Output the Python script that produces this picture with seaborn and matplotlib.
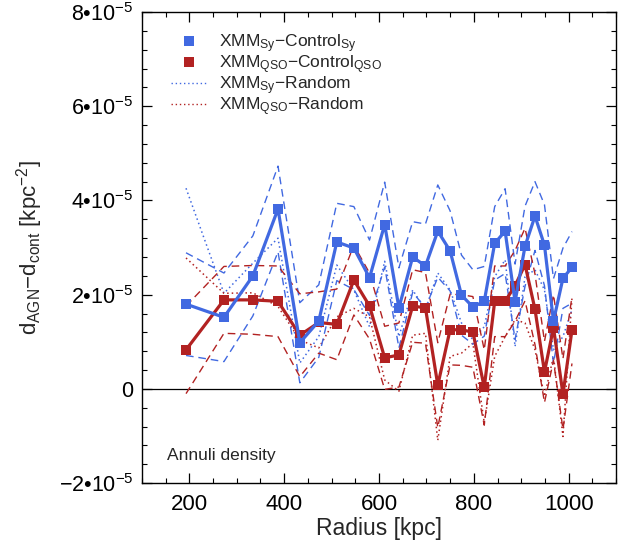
import numpy as np
import pandas as pd
import matplotlib
matplotlib.use("Agg")
import matplotlib.pyplot as plt
from matplotlib.lines import Line2D
from matplotlib.ticker import MultipleLocator, FixedLocator
import seaborn as sns

# ---------------- data (values in units of 1e-5 kpc^-2) ----------------
radius = [193, 273, 334, 387, 433, 473, 511, 547, 580, 612, 642, 671, 698, 724,
          750, 774, 798, 822, 844, 866, 887, 908, 929, 949, 968, 988, 1007]

sy_control = [1.80, 1.52, 2.40, 3.82, 0.98, 1.44, 3.12, 2.99, 2.36, 3.49, 1.72, 2.80, 2.61, 3.35,
              2.93, 1.99, 1.74, 1.86, 3.09, 3.35, 1.85, 3.03, 3.67, 3.05, 1.44, 2.35, 2.58]
sy_err = [1.09, 0.94, 0.85, 0.91, 0.85, 0.77, 0.82, 0.88, 0.80, 0.90, 0.85, 0.75, 0.89, 0.98,
          0.85, 0.85, 0.79, 0.74, 0.78, 0.90, 0.80, 0.85, 0.73, 0.86, 0.90, 0.64, 0.76]

qso_control = [0.83, 1.89, 1.89, 1.86, 1.14, 1.41, 1.37, 2.31, 1.76, 0.66, 0.72, 1.76, 1.72, 0.08,
               1.26, 1.25, 1.21, 0.03, 1.86, 1.86, 2.19, 2.64, 1.69, 0.36, 1.30, -0.11, 1.25]
qso_err = [0.93, 0.71, 0.73, 0.75, 0.88, 0.65, 0.75, 0.74, 0.70, 0.67, 0.68, 0.77, 0.75, 0.90,
           0.75, 0.75, 0.75, 0.80, 0.75, 0.75, 0.75, 0.77, 0.75, 0.65, 0.70, 0.75, 0.71]

sy_random = [4.26, 2.03, 2.67, 3.20, 0.55, 1.11, 2.63, 2.10, 1.32, 2.71, 1.11, 2.10, 1.68, 2.46,
             2.10, 1.40, 1.04, 1.32, 2.38, 2.74, 0.90, 2.38, 2.53, 2.10, 0.83, 1.11, 1.68]
qso_random = [2.78, 2.03, 2.04, 1.75, 1.04, 0.87, 1.53, 1.71, 1.53, 0.19, -0.05, 1.14, 1.18, -1.09,
              0.69, 0.76, 0.97, -0.72, 0.69, 1.11, 1.47, 1.40, 0.83, -0.16, 0.69, -1.01, 1.93]

yticks = [-2, 0, 2, 4, 6, 8]
ytick_labels = [r"$-$2•10$^{-5}$", "0", r"2•10$^{-5}$", r"4•10$^{-5}$", r"6•10$^{-5}$", r"8•10$^{-5}$"]
xticks = [200, 400, 600, 800, 1000]

BLUE = "#4169e1"
RED = "#b22222"

# ---------------- style ----------------
sns.set_style("ticks")
plt.rcParams["font.family"] = ["Liberation Sans", "DejaVu Sans"]
plt.rcParams["mathtext.fontset"] = "custom"
plt.rcParams["mathtext.rm"] = "Liberation Sans"
plt.rcParams["mathtext.it"] = "Liberation Sans"
plt.rcParams["mathtext.default"] = "regular"

df = pd.DataFrame({
    "r": radius,
    "sy": sy_control, "sy_hi": np.array(sy_control) + np.array(sy_err),
    "sy_lo": np.array(sy_control) - np.array(sy_err),
    "qso": qso_control, "qso_hi": np.array(qso_control) + np.array(qso_err),
    "qso_lo": np.array(qso_control) - np.array(qso_err),
    "sy_rand": sy_random, "qso_rand": qso_random,
})

fig = plt.figure(figsize=(6.28, 5.49), dpi=100)
ax = fig.add_axes([0.226, 0.120, 0.755, 0.858])

ax.axhline(0, color="black", lw=0.9, zorder=1)

kw = dict(ax=ax, sort=False, estimator=None, legend=False)
sns.lineplot(data=df, x="r", y="sy_rand", color=BLUE, lw=1.1, linestyle=(0, (1, 2)), **kw)
sns.lineplot(data=df, x="r", y="qso_rand", color=RED, lw=1.1, linestyle=(0, (1, 2)), **kw)
for col, c in [("sy_hi", BLUE), ("sy_lo", BLUE), ("qso_hi", RED), ("qso_lo", RED)]:
    sns.lineplot(data=df, x="r", y=col, color=c, lw=1.0, linestyle=(0, (5.5, 3.5)), **kw)
sns.lineplot(data=df, x="r", y="qso", color=RED, lw=2.3, marker="s", markersize=6.5,
             markeredgewidth=0, **kw)
sns.lineplot(data=df, x="r", y="sy", color=BLUE, lw=2.3, marker="s", markersize=6.5,
             markeredgewidth=0, **kw)

ax.set_xlim(100, 1100)
ax.set_ylim(-2, 8)
ax.xaxis.set_major_locator(FixedLocator(xticks))
ax.xaxis.set_minor_locator(MultipleLocator(50))
ax.yaxis.set_major_locator(FixedLocator(yticks))
ax.yaxis.set_minor_locator(MultipleLocator(0.4))
ax.set_yticklabels(ytick_labels)
ax.tick_params(which="both", direction="in", top=True, right=True, colors="black")
ax.tick_params(axis="x", labelsize=16, pad=8)
ax.tick_params(axis="y", labelsize=15.5, pad=6)
ax.tick_params(which="major", length=7, width=0.9)
ax.tick_params(which="minor", length=3.5, width=0.8)
for s in ax.spines.values():
    s.set_linewidth(1.0)
    s.set_color("black")

ax.set_xlabel("Radius [kpc]", fontsize=16.5, labelpad=1)
ax.set_ylabel(r"d$_{AGN}$$-$d$_{cont}$ [kpc$^{-2}$]", fontsize=16, labelpad=10)

ax.text(0.053, 0.059, "Annuli density", transform=ax.transAxes, fontsize=12.5, ha="left", va="center")

handles = [
    Line2D([], [], color=BLUE, marker="s", linestyle="none", markersize=7, markeredgewidth=0),
    Line2D([], [], color=RED, marker="s", linestyle="none", markersize=7, markeredgewidth=0),
    Line2D([], [], color=BLUE, lw=1.0, linestyle=(0, (1, 2))),
    Line2D([], [], color=RED, lw=1.0, linestyle=(0, (1, 2))),
]
labels = [
    r"XMM$_{Sy}$$-$Control$_{Sy}$",
    r"XMM$_{QSO}$$-$Control$_{QSO}$",
    r"XMM$_{Sy}$$-$Random",
    r"XMM$_{QSO}$$-$Random",
]
ax.legend(handles, labels, loc="upper left", bbox_to_anchor=(0.04, 0.98), frameon=False,
          fontsize=12.5, handlelength=2.0, handletextpad=0.75, labelspacing=-0.08, borderaxespad=0.2)

fig.savefig("out.png", dpi=100)
